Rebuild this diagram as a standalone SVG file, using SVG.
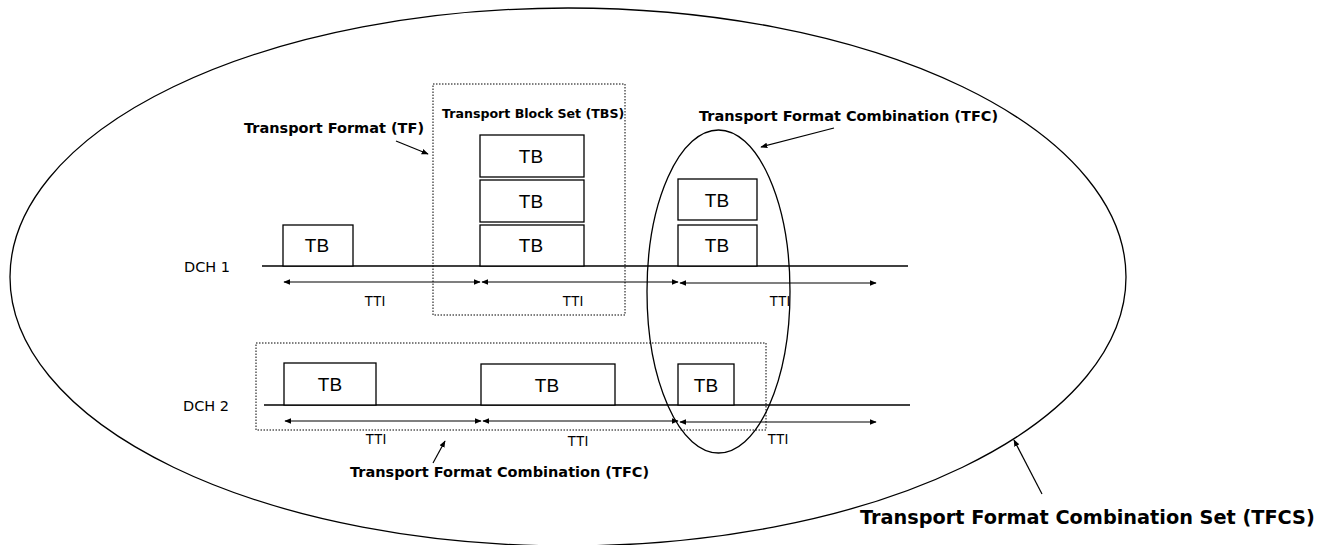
<svg xmlns="http://www.w3.org/2000/svg" width="1333" height="545" viewBox="0 0 1333 545">
<style>
.b{fill:#fff;stroke:#000;stroke-width:1.3}
.d{fill:none;stroke:#000;stroke-width:1;stroke-dasharray:1.5 1.5}
.l{stroke:#000;stroke-width:1.3;fill:none}
.a{stroke:#000;stroke-width:1.2;fill:none;marker-start:url(#h);marker-end:url(#h)}
.p{stroke:#000;stroke-width:1.2;fill:none;marker-end:url(#h)}
.tb{font-family:"Liberation Sans",Arial,sans-serif;font-size:19px;text-anchor:middle}
.tt{font-family:"Liberation Sans",Arial,sans-serif;font-size:14px;text-anchor:middle}
.dc{font-family:"DejaVu Sans",sans-serif;font-size:14.5px}
.lb{font-family:"DejaVu Sans",sans-serif;font-weight:bold;font-size:14.5px}
</style>
<defs>
<marker id="h" viewBox="0 0 10 10" refX="9" refY="5" markerWidth="7" markerHeight="7" markerUnits="userSpaceOnUse" orient="auto-start-reverse"><path d="M0,1 L10,5 L0,9 z" fill="#000"/></marker>
</defs>
<rect width="1333" height="545" fill="#fff"/>
<g id="tfcs"><ellipse cx="568" cy="277" rx="558" ry="269" class="l"/></g>
<g id="tbs-box"><rect x="433" y="84" width="192" height="231" class="d"/></g>
<g id="dch2-box"><rect x="256" y="343" width="510" height="87" class="d"/></g>
<g id="dch1">
<line x1="262" y1="266" x2="908" y2="266" class="l"/>
<text x="184" y="272" class="dc">DCH 1</text>
</g>
<g id="dch2">
<line x1="264" y1="405" x2="910" y2="405" class="l"/>
<text x="183" y="411" class="dc">DCH 2</text>
</g>
<g id="tb1"><rect x="283" y="225" width="70" height="41" class="b"/><text x="317" y="252" class="tb">TB</text></g>
<g id="tb2"><rect x="480" y="135" width="104" height="42" class="b"/><text x="531" y="163" class="tb">TB</text></g>
<g id="tb3"><rect x="480" y="180" width="104" height="42" class="b"/><text x="531" y="208" class="tb">TB</text></g>
<g id="tb4"><rect x="480" y="225" width="104" height="41" class="b"/><text x="531" y="252" class="tb">TB</text></g>
<g id="tb5"><rect x="678" y="179" width="79" height="41" class="b"/><text x="717" y="207" class="tb">TB</text></g>
<g id="tb6"><rect x="678" y="225" width="79" height="41" class="b"/><text x="717" y="252" class="tb">TB</text></g>
<g id="tb7"><rect x="284" y="363" width="92" height="42" class="b"/><text x="330" y="391" class="tb">TB</text></g>
<g id="tb8"><rect x="481" y="364" width="134" height="41" class="b"/><text x="547" y="392" class="tb">TB</text></g>
<g id="tb9"><rect x="678" y="364" width="56" height="41" class="b"/><text x="706" y="392" class="tb">TB</text></g>
<g id="tfc-ellipse"><ellipse cx="718.5" cy="291.5" rx="71.5" ry="161.5" class="l"/></g>
<g id="connectors">
<line x1="284" y1="282" x2="480" y2="282" class="a"/>
<line x1="482" y1="282" x2="678" y2="282" class="a"/>
<line x1="680" y1="283" x2="876" y2="283" class="a"/>
<line x1="285" y1="421" x2="481" y2="421" class="a"/>
<line x1="483" y1="421" x2="678" y2="421" class="a"/>
<line x1="680" y1="422" x2="876" y2="422" class="a"/>
<line x1="396" y1="141" x2="428" y2="154" class="p"/>
<line x1="834" y1="128" x2="761" y2="147" class="p"/>
<line x1="433" y1="463" x2="445" y2="441" class="p"/>
<line x1="1042" y1="494" x2="1014" y2="440" class="p"/>
</g>
<g id="labels">
<text x="375" y="306" class="tt">TTI</text>
<text x="573" y="306" class="tt">TTI</text>
<text x="780" y="306" class="tt">TTI</text>
<text x="376" y="444" class="tt">TTI</text>
<text x="578" y="446" class="tt">TTI</text>
<text x="778" y="444" class="tt">TTI</text>
<text x="244" y="133" class="lb">Transport Format (TF)</text>
<text x="442" y="118" class="lb" style="font-size:12.6px">Transport Block Set (TBS)</text>
<text x="699" y="121" class="lb">Transport Format Combination (TFC)</text>
<text x="350" y="477" class="lb">Transport Format Combination (TFC)</text>
<text x="860" y="524" class="lb" style="font-size:19.3px">Transport Format Combination Set (TFCS)</text>
</g>
</svg>
